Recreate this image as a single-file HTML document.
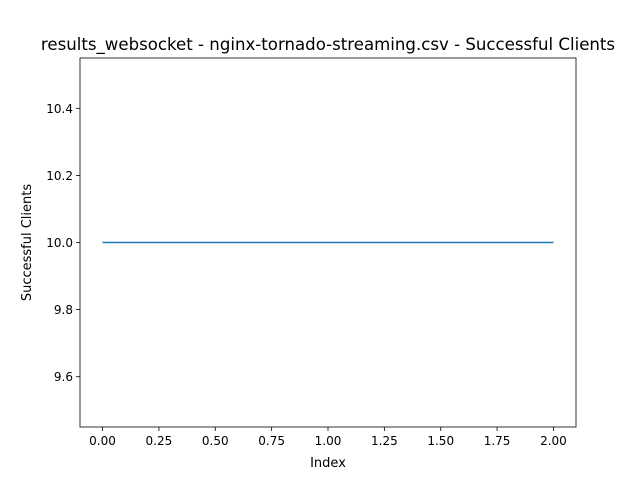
<!DOCTYPE html>
<html><head><meta charset="utf-8"><style>body{margin:0;background:#fff}svg{display:block}text{font-family:"DejaVu Sans","Liberation Sans",sans-serif;fill:#000}</style></head>
<body>
<svg id="chart" width="640" height="480">
<rect width="640" height="480" fill="#fff"/>
<text x="328" y="50" font-size="16.6" text-anchor="middle">results_websocket - nginx-tornado-streaming.csv - Successful Clients</text>
<g id="axes"></g>
<text x="328" y="467" font-size="13" text-anchor="middle">Index</text>
<text transform="translate(31,242.5) rotate(-90)" font-size="13" text-anchor="middle">Successful Clients</text>
</svg>
<script>
const xValues = [0, 1, 2];
const yValues = [10, 10, 10];
const xTicks = [0, 0.25, 0.5, 0.75, 1, 1.25, 1.5, 1.75, 2];
const yTicks = [9.6, 9.8, 10.0, 10.2, 10.4];
const L=80,R=576,T=58,B=427;
const xMin=-0.1,xMax=2.1,yMin=9.45,yMax=10.55;
const sx=v=>L+(v-xMin)/(xMax-xMin)*(R-L);
const sy=v=>B-(v-yMin)/(yMax-yMin)*(B-T);
const NS='http://www.w3.org/2000/svg';
const g=document.getElementById('axes');
function mk(t,a){const e=document.createElementNS(NS,t);for(const k in a)e.setAttribute(k,a[k]);g.appendChild(e);return e;}
xTicks.forEach(v=>{
 const l=mk('line',{x1:sx(v),x2:sx(v),y1:B,y2:B+4,stroke:'#000','stroke-width':0.8});
 
 
 const t=mk('text',{x:sx(v),y:B+18,'font-size':12,'text-anchor':'middle'});
 t.textContent=v.toFixed(2);
 
 
});
yTicks.forEach(v=>{
 const l=mk('line',{x1:L-4,x2:L,y1:sy(v),y2:sy(v),stroke:'#000','stroke-width':0.8});
 
 
 const t=mk('text',{x:L-7,y:sy(v)+4.5,'font-size':12,'text-anchor':'end'});
 t.textContent=v.toFixed(1);
 
 
});
const p=mk('polyline',{points:xValues.map((x,i)=>sx(x)+','+sy(yValues[i])).join(' '),fill:'none',stroke:'#1f77b4','stroke-width':1.5});


const f=mk('rect',{x:L,y:T,width:R-L,height:B-T,fill:'none',stroke:'#000','stroke-width':0.8});


</script>
</body></html>
